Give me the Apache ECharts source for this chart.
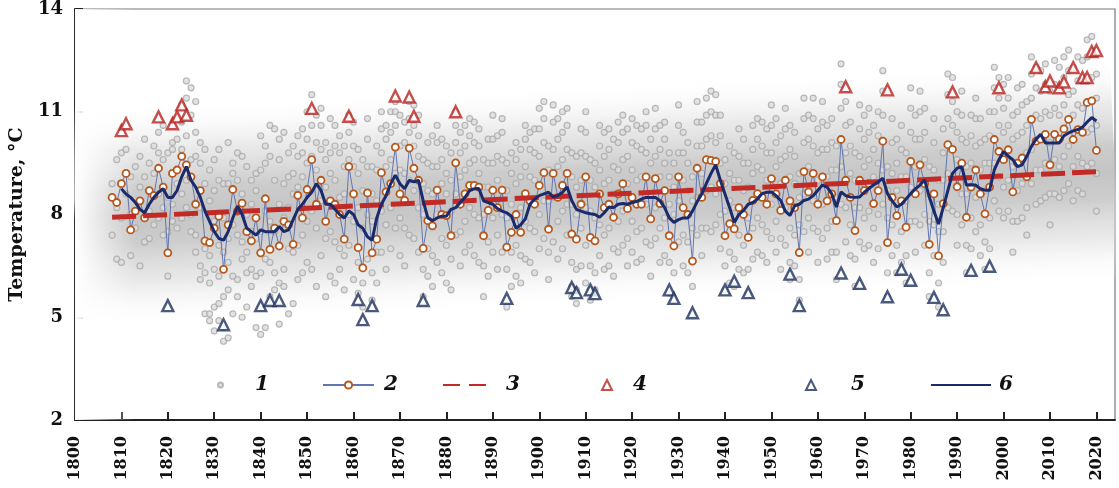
<!DOCTYPE html>
<html>
<head>
<meta charset="utf-8">
<script src="https://cdn.jsdelivr.net/npm/echarts@6/dist/echarts.min.js"></script>
<style>
  html, body { margin: 0; padding: 0; background: #fff; }
  #chart { width: 1119px; height: 488px; }
</style>
</head>
<body>
<div id="chart"></div>
<script>
// ---- Data -------------------------------------------------------------
// Tick labels on the time axis
const yearTicks = [1800, 1810, 1820, 1830, 1840, 1850, 1860, 1870, 1880, 1890, 1900,
  1910, 1920, 1930, 1940, 1950, 1960, 1970, 1980, 1990, 2000, 2010, 2020];
const tempTicks = [2, 5, 8, 11, 14];

// 1 — individual station annual values: [year, value, value, ...]
const stationDots = [
  [1808, 8.9, 7.4], [1809, 8.2, 9.6, 6.7], [1810, 9.8, 7.9, 6.6], [1811, 8.6, 9.9],
  [1812, 8.0, 6.8, 9.1], [1813, 9.4, 7.6], [1814, 9.7, 8.8, 6.5], [1815, 9.1, 7.2, 10.2],
  [1816, 9.5, 8.1, 7.3], [1817, 10.0, 9.2, 7.7], [1818, 10.4, 9.8, 7.9, 8.6],
  [1819, 9.6, 10.6, 8.2, 7.4], [1820, 8.5, 7.5, 9.8, 6.2], [1821, 10.1, 9.9, 8.3, 7.8],
  [1822, 10.8, 10.2, 8.9, 7.6], [1823, 11.2, 10.7, 9.9, 8.6, 7.9], [1824, 11.9, 11.4, 10.3, 9.0, 8.2],
  [1825, 11.7, 10.9, 9.6, 8.0, 7.5], [1826, 11.3, 10.4, 9.7, 7.4, 6.9], [1827, 10.1, 9.5, 8.2, 6.5, 6.1],
  [1828, 9.9, 8.9, 7.0, 6.3, 5.1], [1829, 9.3, 8.4, 6.8, 6.0, 5.1, 4.9], [1830, 9.6, 8.7, 7.8, 6.4, 5.3, 4.6],
  [1831, 9.9, 9.0, 7.1, 6.2, 5.4, 4.9], [1832, 8.9, 7.9, 6.9, 5.6, 4.7, 4.3], [1833, 10.1, 8.9, 7.3, 6.6, 5.8, 4.4],
  [1834, 9.5, 9.2, 7.7, 6.2, 5.1], [1835, 9.8, 9.0, 7.4, 6.1, 5.6], [1836, 9.7, 8.6, 7.2, 6.7, 5.0],
  [1837, 9.4, 8.0, 6.9, 6.3, 5.3], [1838, 9.0, 8.3, 7.5, 6.4, 5.9], [1839, 9.2, 8.7, 7.3, 6.2, 4.7],
  [1840, 10.3, 9.3, 7.5, 6.3, 4.5], [1841, 10.0, 9.5, 8.1, 6.7, 4.7], [1842, 10.6, 9.7, 7.8, 6.6, 5.6],
  [1843, 10.5, 9.0, 7.5, 6.3, 5.8], [1844, 10.2, 9.6, 8.3, 6.0, 4.8], [1845, 10.4, 8.9, 7.9, 6.4, 5.9],
  [1846, 9.8, 9.1, 8.2, 7.0, 5.1], [1847, 10.0, 9.2, 8.6, 6.9, 5.4], [1848, 10.3, 9.7, 8.8, 7.1, 6.1],
  [1849, 10.5, 9.8, 9.1, 7.4, 6.3], [1850, 11.0, 10.2, 9.5, 7.8, 6.6], [1851, 11.5, 10.6, 9.7, 8.1, 6.4],
  [1852, 10.9, 10.1, 9.3, 7.6, 5.9], [1853, 11.1, 10.6, 9.9, 8.4, 6.8], [1854, 10.1, 9.6, 8.8, 7.3, 5.6],
  [1855, 10.8, 9.8, 9.2, 7.5, 6.2], [1856, 10.6, 10.0, 9.0, 7.2, 6.0], [1857, 10.3, 9.8, 8.5, 7.0, 6.4],
  [1858, 10.0, 9.4, 8.6, 6.8, 5.8], [1859, 10.9, 10.4, 9.6, 8.0, 7.1], [1860, 10.7, 10.0, 9.4, 7.8, 6.1],
  [1861, 9.9, 9.2, 8.2, 6.6, 5.7], [1862, 9.6, 8.7, 7.6, 6.0, 5.3], [1863, 10.8, 10.2, 9.4, 8.0, 6.7],
  [1864, 9.4, 8.6, 7.8, 6.3, 5.5], [1865, 10.0, 9.3, 8.4, 6.9, 6.0], [1866, 11.0, 10.5, 9.8, 8.1, 6.9],
  [1867, 10.6, 10.2, 9.4, 7.7, 6.4], [1868, 11.0, 10.4, 9.6, 8.2, 7.0], [1869, 11.3, 11.0, 10.6, 9.2, 7.6],
  [1870, 10.9, 10.0, 9.3, 7.9, 6.8], [1871, 10.7, 10.1, 9.2, 7.6, 6.5], [1872, 11.3, 10.8, 10.4, 9.0, 7.4],
  [1873, 11.2, 10.6, 10.0, 8.7, 7.3], [1874, 10.9, 10.3, 9.7, 8.2, 6.9], [1875, 9.6, 8.9, 8.0, 6.4, 5.6],
  [1876, 10.1, 9.5, 8.7, 7.0, 6.2], [1877, 10.3, 9.4, 8.6, 6.8, 5.9], [1878, 10.6, 10.1, 9.4, 8.0, 6.6],
  [1879, 10.2, 9.6, 8.9, 7.3, 6.3], [1880, 10.0, 9.2, 8.6, 7.1, 6.0], [1881, 9.8, 9.0, 8.1, 6.7, 5.8],
  [1882, 11.0, 10.6, 10.1, 8.6, 7.4], [1883, 10.4, 9.8, 9.1, 7.5, 6.5], [1884, 10.6, 10.0, 9.3, 7.8, 6.9],
  [1885, 10.8, 10.3, 9.5, 8.2, 7.1], [1886, 10.7, 10.1, 9.6, 8.0, 6.8], [1887, 10.5, 10.0, 9.2, 7.9, 6.6],
  [1888, 9.6, 8.8, 8.0, 6.5, 5.6], [1889, 10.2, 9.5, 8.8, 7.2, 6.2], [1890, 10.9, 10.2, 9.5, 7.9, 6.9],
  [1891, 10.3, 9.7, 9.0, 7.4, 6.4], [1892, 10.8, 10.4, 9.6, 8.0, 6.9], [1893, 9.5, 8.7, 7.9, 6.4, 5.3],
  [1894, 9.8, 9.2, 8.3, 6.9, 5.9], [1895, 10.1, 9.6, 8.9, 7.1, 6.2], [1896, 9.9, 9.1, 8.2, 6.8, 6.0],
  [1897, 10.6, 10.2, 9.4, 7.8, 6.7], [1898, 10.4, 9.9, 9.1, 7.6, 6.6], [1899, 10.5, 9.8, 9.0, 7.5, 6.3],
  [1900, 11.1, 10.5, 9.7, 8.0, 7.0], [1901, 11.3, 10.8, 10.1, 8.4, 7.3], [1902, 10.0, 9.3, 8.4, 6.9, 6.1],
  [1903, 11.2, 10.7, 9.9, 8.5, 7.2], [1904, 10.8, 10.2, 9.4, 7.8, 6.7], [1905, 11.0, 10.4, 9.6, 8.1, 7.0],
  [1906, 11.1, 10.6, 9.9, 8.3, 7.4], [1907, 9.8, 9.1, 8.3, 6.6, 5.9, 5.6], [1908, 9.7, 8.8, 8.0, 6.4, 5.8, 5.4],
  [1909, 10.5, 9.8, 9.0, 7.6, 6.5], [1910, 11.0, 10.4, 9.7, 8.2, 7.1, 6.0], [1911, 9.6, 9.0, 8.1, 6.5, 5.8, 5.5],
  [1912, 9.5, 8.8, 7.9, 6.3, 5.8], [1913, 10.6, 10.0, 9.3, 7.7, 6.8], [1914, 10.4, 9.7, 8.9, 7.4, 6.4],
  [1915, 10.5, 9.9, 9.0, 7.6, 6.5], [1916, 10.2, 9.4, 8.6, 7.0, 6.2], [1917, 10.7, 10.1, 9.3, 7.8, 6.9],
  [1918, 10.9, 10.4, 9.6, 8.1, 7.1], [1919, 10.5, 9.7, 8.9, 7.3, 6.5], [1920, 10.8, 10.1, 9.3, 7.8, 6.9],
  [1921, 10.6, 10.0, 9.0, 7.5, 6.6], [1922, 10.5, 9.9, 9.1, 7.6, 6.7], [1923, 11.0, 10.6, 9.8, 8.3, 7.2],
  [1924, 10.2, 9.5, 8.6, 7.1, 6.2], [1925, 11.1, 10.5, 9.7, 8.2, 7.3], [1926, 10.6, 9.9, 9.1, 7.6, 6.6],
  [1927, 10.7, 10.2, 9.5, 7.9, 6.8], [1928, 9.8, 9.1, 8.3, 6.6, 5.7], [1929, 9.5, 8.8, 8.0, 6.3, 5.5],
  [1930, 11.2, 10.6, 9.8, 8.4, 7.2], [1931, 10.4, 9.8, 9.0, 7.4, 6.5], [1932, 10.1, 9.5, 8.7, 7.2, 6.3],
  [1933, 9.1, 8.4, 7.6, 5.9, 5.1], [1934, 11.3, 10.7, 10.0, 8.5, 7.4], [1935, 10.7, 10.0, 9.2, 7.6, 6.8],
  [1936, 11.4, 10.9, 10.2, 8.7, 7.6], [1937, 11.6, 11.0, 10.3, 8.8, 7.5], [1938, 11.5, 10.9, 10.1, 8.6, 7.7],
  [1939, 10.9, 10.3, 9.5, 8.0, 7.0], [1940, 9.6, 8.9, 8.1, 6.5, 5.8], [1941, 10.0, 9.2, 8.4, 6.9, 6.0],
  [1942, 9.8, 9.0, 8.2, 6.7, 5.9], [1943, 10.5, 9.7, 9.0, 7.4, 6.4], [1944, 10.2, 9.5, 8.7, 7.1, 6.3],
  [1945, 9.5, 8.8, 7.9, 6.4, 5.7], [1946, 10.6, 9.9, 9.2, 7.6, 6.7], [1947, 10.8, 10.2, 9.4, 7.9, 6.9],
  [1948, 10.7, 10.0, 9.3, 7.7, 6.8], [1949, 10.5, 9.8, 9.0, 7.5, 6.6], [1950, 11.2, 10.6, 9.8, 8.3, 7.3],
  [1951, 10.8, 10.1, 9.4, 7.8, 6.9], [1952, 10.3, 9.6, 8.9, 7.3, 6.4], [1953, 11.1, 10.5, 9.7, 8.2, 7.1],
  [1954, 10.6, 9.9, 9.1, 7.6, 6.6, 6.1], [1955, 10.4, 9.7, 8.9, 7.4, 6.5], [1956, 9.2, 8.5, 7.7, 6.1, 5.5],
  [1957, 11.4, 10.8, 10.1, 8.6, 7.5], [1958, 10.9, 10.2, 9.4, 7.9, 6.9], [1959, 11.4, 10.8, 10.0, 8.4, 7.6],
  [1960, 10.5, 9.8, 9.0, 7.5, 6.6], [1961, 11.3, 10.7, 9.9, 8.3, 7.3], [1962, 10.6, 9.9, 9.1, 7.6, 6.7],
  [1963, 10.8, 10.1, 9.3, 7.8, 6.9], [1964, 10.0, 9.3, 8.5, 6.9, 6.1], [1965, 12.4, 11.8, 11.1, 9.4, 8.3],
  [1966, 11.3, 10.6, 9.8, 8.2, 7.2], [1967, 10.7, 10.0, 9.2, 7.7, 6.8], [1968, 9.8, 9.0, 8.2, 6.7, 5.9],
  [1969, 11.2, 10.5, 9.7, 8.2, 7.2], [1970, 10.9, 10.2, 9.4, 7.9, 7.0], [1971, 11.1, 10.4, 9.6, 8.1, 7.1],
  [1972, 10.6, 9.9, 9.1, 7.6, 6.6], [1973, 11.0, 10.3, 9.5, 8.0, 7.0], [1974, 12.2, 11.6, 10.9, 9.3, 8.3],
  [1975, 9.4, 8.7, 7.9, 6.3, 5.6], [1976, 10.8, 10.1, 9.2, 7.7, 6.8], [1977, 10.2, 9.5, 8.7, 7.1, 6.3],
  [1978, 10.6, 9.9, 9.1, 7.5, 6.6], [1979, 9.8, 9.1, 8.4, 6.8, 6.0], [1980, 11.7, 11.1, 10.4, 8.8, 7.8],
  [1981, 10.9, 10.2, 9.4, 7.8, 6.9], [1982, 11.6, 11.0, 10.2, 8.7, 7.7], [1983, 11.1, 10.4, 9.6, 8.0, 7.1],
  [1984, 9.4, 8.6, 7.8, 6.3, 5.6], [1985, 10.8, 10.1, 9.3, 7.7, 6.8], [1986, 9.0, 8.3, 7.5, 6.0, 5.3],
  [1987, 10.5, 9.8, 9.0, 7.5, 6.6], [1988, 12.1, 11.5, 10.8, 9.2, 8.2], [1989, 12.0, 11.3, 10.6, 9.1, 8.1],
  [1990, 11.0, 10.4, 9.6, 8.0, 7.1], [1991, 11.6, 10.9, 10.2, 8.6, 7.7], [1992, 10.1, 9.4, 8.6, 7.1, 6.3],
  [1993, 10.9, 10.3, 9.5, 7.9, 7.0], [1994, 11.4, 10.8, 10.0, 8.5, 7.5], [1995, 10.8, 10.1, 9.3, 7.7, 6.8],
  [1996, 10.2, 9.5, 8.7, 7.2, 6.4], [1997, 11.0, 10.3, 9.5, 7.9, 7.0], [1998, 12.3, 11.7, 11.0, 9.5, 8.4],
  [1999, 12.0, 11.4, 10.6, 9.1, 8.1], [2000, 11.8, 11.1, 10.4, 8.8, 7.9], [2001, 12.0, 11.4, 10.6, 9.0, 8.1],
  [2002, 10.9, 10.2, 9.4, 7.8, 6.9], [2003, 11.7, 11.0, 10.3, 8.7, 7.8], [2004, 11.8, 11.2, 10.4, 8.9, 7.9],
  [2005, 11.3, 10.6, 9.8, 8.2, 7.4], [2006, 12.6, 12.1, 11.4, 9.9, 8.9], [2007, 12.3, 11.7, 10.9, 9.3, 8.3],
  [2008, 12.2, 11.6, 10.8, 9.3, 8.4], [2009, 12.4, 11.8, 11.0, 9.5, 8.5], [2010, 11.6, 10.9, 10.1, 8.6, 7.7],
  [2011, 12.5, 11.8, 11.1, 9.6, 8.6], [2012, 12.3, 11.7, 10.9, 9.4, 8.5], [2013, 12.6, 12.0, 11.2, 9.7, 8.7],
  [2014, 12.8, 12.2, 11.5, 10.0, 8.9], [2015, 12.3, 11.6, 10.9, 9.4, 8.4], [2016, 12.6, 11.9, 11.2, 9.7, 8.7],
  [2017, 12.5, 11.9, 11.1, 9.5, 8.6], [2018, 13.1, 12.6, 11.9, 10.4, 9.4], [2019, 13.2, 12.7, 12.0, 10.5, 9.5],
  [2020, 12.1, 11.4, 10.6, 9.2, 8.1]
];

// 2 — regional annual mean temperature, one value per year from 1808
const annualFirstYear = 1808;
const annualMean = [
  8.5, 8.35, 8.9, 9.2, 7.55, 8.1, 8.4, 7.9, 8.7, 8.55,      // 1808-1817
  9.35, 8.8, 6.88, 9.2, 9.3, 9.7, 9.45, 9.1, 8.3, 8.7,      // 1818-1827
  7.23, 7.18, 7.6, 7.95, 6.4, 7.7, 8.73, 8.1, 8.33, 7.5,    // 1828-1837
  7.23, 7.9, 6.88, 8.46, 6.98, 7.6, 7.08, 7.8, 7.7, 7.13,   // 1838-1847
  8.56, 7.9, 8.73, 9.6, 8.3, 9.0, 7.8, 8.4, 8.3, 8.0,       // 1848-1857
  7.28, 9.4, 8.6, 7.03, 6.44, 8.63, 6.88, 7.28, 9.22, 8.66, // 1858-1867
  8.9, 9.97, 8.6, 8.41, 9.94, 9.35, 9.0, 7.01, 7.82, 7.67,  // 1868-1877
  8.71, 8.0, 7.97, 7.38, 9.51, 8.3, 8.6, 8.85, 8.85, 8.8,   // 1878-1887
  7.38, 8.12, 8.71, 8.2, 8.71, 7.05, 7.48, 8.0, 7.48, 8.61, // 1888-1897
  8.4, 8.3, 8.85, 9.22, 7.57, 9.2, 8.5, 8.85, 9.2, 7.43,    // 1898-1907
  7.28, 8.3, 9.1, 7.33, 7.23, 8.6, 8.2, 8.3, 7.92, 8.6,     // 1908-1917
  8.9, 8.17, 8.5, 8.3, 8.3, 9.1, 7.87, 9.05, 8.32, 8.7,     // 1918-1927
  7.38, 7.08, 9.1, 8.2, 8.0, 6.64, 9.35, 8.5, 9.6, 9.58,    // 1928-1937
  9.55, 8.9, 7.38, 7.73, 7.58, 8.2, 8.0, 7.33, 8.41, 8.61,  // 1938-1947
  8.5, 8.3, 9.05, 8.6, 8.12, 9.0, 8.4, 8.2, 6.89, 9.25,     // 1948-1957
  8.66, 9.2, 8.3, 9.1, 8.4, 8.6, 7.82, 10.19, 9.0, 8.5,     // 1958-1967
  7.53, 9.0, 8.7, 8.9, 8.32, 8.7, 10.14, 7.18, 8.5, 7.97,   // 1968-1977
  8.4, 7.63, 9.55, 8.6, 9.45, 8.9, 7.13, 8.6, 6.79, 8.32,   // 1978-1987
  10.04, 9.9, 8.81, 9.5, 7.92, 8.8, 9.3, 8.6, 8.02, 8.8,    // 1988-1997
  10.19, 9.84, 9.6, 9.89, 8.66, 9.5, 9.65, 9.1, 10.78, 10.14, // 1998-2007
  10.2, 10.34, 9.45, 10.34, 10.2, 10.5, 10.78, 10.19, 10.48, 10.4, // 2008-2017
  11.27, 11.32, 9.87                                         // 2018-2020
];

// 3 — linear trend (end points)
const trendLine = [[1808, 7.92], [2020, 9.25]];

// 4 — warm extremes, 5 — cold extremes: [year, value]
const warmExtremes = [
  [1810, 10.45], [1811, 10.65], [1818, 10.85], [1821, 10.65], [1822, 10.85], [1823, 11.2], [1824, 10.9],
  [1851, 11.1], [1859, 10.87], [1869, 11.46], [1872, 11.43], [1873, 10.87], [1882, 11.0],
  [1966, 11.73], [1975, 11.64], [1989, 11.58], [1999, 11.7], [2007, 12.29], [2009, 11.73],
  [2010, 11.9], [2012, 11.7], [2013, 11.87], [2015, 12.29], [2017, 12.0], [2018, 12.0],
  [2019, 12.76], [2020, 12.79]
];
const coldExtremes = [
  [1820, 5.34], [1832, 4.78], [1840, 5.34], [1842, 5.49], [1844, 5.49], [1861, 5.52], [1862, 4.93],
  [1864, 5.34], [1875, 5.49], [1893, 5.55], [1907, 5.87], [1908, 5.72], [1911, 5.8], [1912, 5.69],
  [1928, 5.8], [1929, 5.55], [1933, 5.13], [1940, 5.8], [1942, 6.05], [1945, 5.72], [1954, 6.26],
  [1956, 5.34], [1965, 6.29], [1969, 5.99], [1975, 5.6], [1978, 6.4], [1980, 6.08], [1985, 5.58],
  [1987, 5.22], [1993, 6.37], [1997, 6.49]
];

// 6 — smoothed mean, one value per year from 1810
const smoothFirstYear = 1810;
const smoothedMean = [
  8.75, 8.6, 8.5, 8.35, 8.15, 8.05, 8.3, 8.5, 8.65, 8.75,   // 1810-1819
  8.5, 8.5, 8.7, 9.1, 9.4, 9.0, 8.8, 8.5, 8.1, 7.8,         // 1820-1829
  7.5, 7.3, 7.25, 7.5, 7.9, 8.25, 8.0, 7.6, 7.5, 7.4,       // 1830-1839
  7.55, 7.5, 7.5, 7.5, 7.65, 7.5, 7.55, 7.85, 8.15, 8.3,    // 1840-1849
  8.5, 8.65, 8.9, 8.7, 8.3, 8.3, 8.15, 8.0, 7.9, 8.1,       // 1850-1859
  8.0, 7.7, 7.6, 7.35, 7.25, 7.9, 8.3, 8.55, 8.9, 9.15,     // 1860-1869
  8.9, 8.75, 9.0, 8.95, 9.0, 8.4, 7.9, 7.82, 7.9, 7.95,     // 1870-1879
  7.95, 8.15, 8.2, 8.35, 8.5, 8.7, 8.75, 8.76, 8.4, 8.35,   // 1880-1889
  8.3, 8.17, 8.1, 8.05, 7.95, 7.6, 7.7, 7.87, 8.3, 8.45,    // 1890-1899
  8.55, 8.6, 8.65, 8.51, 8.55, 8.65, 8.8, 8.4, 8.15, 8.1,   // 1900-1909
  8.05, 8.02, 8.0, 7.92, 8.05, 8.22, 8.2, 8.3, 8.32, 8.3,   // 1910-1919
  8.35, 8.38, 8.45, 8.5, 8.5, 8.5, 8.4, 8.2, 7.9, 7.77,     // 1920-1929
  7.85, 7.9, 7.9, 8.1, 8.37, 8.6, 8.91, 9.2, 9.45, 9.0,     // 1930-1939
  8.6, 8.2, 7.77, 8.0, 8.12, 8.3, 8.35, 8.45, 8.61, 8.65,   // 1940-1949
  8.66, 8.55, 8.41, 8.1, 7.97, 8.25, 8.3, 8.41, 8.45, 8.55, // 1950-1959
  8.71, 8.86, 8.8, 8.6, 8.22, 8.66, 8.55, 8.51, 8.5, 8.51,  // 1960-1969
  8.65, 8.76, 8.86, 8.95, 9.06, 8.61, 8.4, 8.22, 8.3, 8.45, // 1970-1979
  8.61, 8.75, 8.86, 9.01, 8.51, 8.1, 7.72, 8.2, 8.7, 9.2,   // 1980-1989
  9.35, 9.4, 8.86, 8.86, 8.86, 8.75, 8.71, 8.71, 9.3, 9.6,  // 1990-1999
  9.84, 9.7, 9.6, 9.4, 9.45, 9.7, 9.99, 10.2, 10.34, 10.09, // 2000-2009
  10.09, 10.09, 10.09, 10.3, 10.38, 10.44, 10.48, 10.55, 10.7, 10.83, // 2010-2019
  10.73                                                      // 2020
];

// ---- Build series data --------------------------------------------------
const dotData = [];
stationDots.forEach(row => {
  for (let i = 1; i < row.length; i++) dotData.push([row[0], row[i]]);
});
const annualData = annualMean.map((v, i) => [annualFirstYear + i, v]);
const smoothData = smoothedMean.map((v, i) => [smoothFirstYear + i, v]);

const X_MIN = 1800, X_MAX = 2024;
const serifBold = '"DejaVu Serif", "Liberation Serif", serif';

// trend value at any year (for the shaded band along the trend)
function trendAt(yr) {
  const [a, b] = trendLine;
  return a[1] + (b[1] - a[1]) * (yr - a[0]) / (b[0] - a[0]);
}

const chart = echarts.init(document.getElementById('chart'), null, { renderer: 'canvas' });

function legendBox(name, left, width, height, textPad, extra) {
  return Object.assign({
    data: [name],
    left: left,
    top: 375,
    padding: 0,
    itemWidth: width,
    itemHeight: height,
    selectedMode: false,
    textStyle: {
      fontFamily: serifBold,
      fontStyle: 'italic',
      fontWeight: 'bold',
      fontSize: 20,
      color: '#111',
      padding: [0, 0, 0, textPad]
    }
  }, extra || {});
}

const option = {
  animation: false,
  backgroundColor: '#fff',
  grid: {
    left: 72, right: 4, top: 9, bottom: 68,
    show: true, borderColor: '#777', borderWidth: 1.2, backgroundColor: 'transparent'
  },
  legend: [
    legendBox('1', 217, 5, 5, 27),
    legendBox('2', 322, 51, 9, 5),
    legendBox('3', 442, 48, 10, 10, { lineStyle: { type: [17, 9], cap: 'butt' } }),
    legendBox('4', 601, 10, 10, 16),
    legendBox('5', 805, 10, 10, 30),
    legendBox('6', 930, 60, 10, 3)
  ],
  xAxis: {
    type: 'value',
    min: X_MIN, max: X_MAX,
    interval: 10,
    splitLine: { show: false },
    axisLine: { show: true, lineStyle: { color: '#222', width: 2 } },
    axisTick: { show: true, inside: true, length: 8, customValues: yearTicks.slice(1), lineStyle: { color: '#222', width: 2 } },
    axisLabel: {
      customValues: yearTicks,
      rotate: 90, margin: 16,
      fontFamily: serifBold, fontWeight: 'bold', fontSize: 16, color: '#111',
      formatter: v => String(v)
    }
  },
  yAxis: {
    type: 'value',
    min: 2, max: 14, interval: 3,
    name: 'Temperature, °C',
    nameLocation: 'middle',
    nameGap: 40,
    nameTextStyle: { fontFamily: serifBold, fontWeight: 'bold', fontSize: 19, color: '#111' },
    splitLine: { show: false },
    axisLine: { show: true, lineStyle: { color: '#222', width: 2 } },
    axisTick: { show: true, inside: true, length: 8, lineStyle: { color: '#222', width: 2 } },
    axisLabel: {
      customValues: tempTicks,
      margin: 12,
      fontFamily: serifBold, fontWeight: 'bold', fontSize: 18, color: '#111'
    }
  },
  series: [
    {
      // soft grey band following the trend
      type: 'custom',
      name: 'band',
      silent: true,
      clip: true,
      z: 1,
      data: [[1900, 8]],
      renderItem: function (params, api) {
        const p0 = api.coord([X_MIN, trendAt(X_MIN)]);
        const p1 = api.coord([X_MAX, trendAt(X_MAX)]);
        const len = Math.hypot(p1[0] - p0[0], p1[1] - p0[1]);
        const half = api.size([0, 3.3])[1];
        const ang = Math.atan2(p0[1] - p1[1], p1[0] - p0[0]);
        const tl = api.coord([X_MIN, 14]);
        const br = api.coord([1813, 2]);
        return {
          type: 'group',
          children: [
            {
              type: 'rect',
              x: p0[0], y: p0[1], rotation: ang,
              shape: { x: 0, y: -half, width: len, height: 2 * half },
              style: {
                fill: new echarts.graphic.LinearGradient(0, 0, 0, 1, [
                  { offset: 0, color: 'rgba(255,255,255,0)' },
                  { offset: 0.2, color: 'rgba(215,215,215,0.5)' },
                  { offset: 0.38, color: 'rgba(196,196,196,0.85)' },
                  { offset: 0.5, color: 'rgba(190,190,190,0.9)' },
                  { offset: 0.62, color: 'rgba(196,196,196,0.85)' },
                  { offset: 0.8, color: 'rgba(215,215,215,0.5)' },
                  { offset: 1, color: 'rgba(255,255,255,0)' }
                ])
              }
            },
            {
              type: 'rect',
              shape: { x: tl[0], y: tl[1], width: br[0] - tl[0], height: br[1] - tl[1] },
              style: {
                fill: new echarts.graphic.LinearGradient(0, 0, 1, 0, [
                  { offset: 0, color: 'rgba(255,255,255,1)' },
                  { offset: 1, color: 'rgba(255,255,255,0)' }
                ])
              }
            }
          ]
        };
      }
    },
    {
      name: '1',
      type: 'scatter',
      z: 2,
      symbol: 'circle',
      symbolSize: 6,
      data: dotData,
      itemStyle: { color: '#dcdcdc', borderColor: '#a9a9a9', borderWidth: 1.2 }
    },
    {
      name: '2',
      type: 'line',
      z: 3,
      data: annualData,
      symbol: 'circle',
      symbolSize: 7,
      showAllSymbol: true,
      lineStyle: { color: '#6276b0', width: 1 },
      itemStyle: { color: '#ffffff', borderColor: '#b5581d', borderWidth: 1.8 }
    },
    {
      name: '3',
      type: 'line',
      z: 4,
      data: trendLine,
      symbol: 'none',
      lineStyle: { color: '#c22a26', width: 5, type: [24, 7], cap: 'butt' },
      itemStyle: { color: '#c22a26', opacity: 0 }
    },
    {
      name: '6',
      type: 'line',
      z: 5,
      data: smoothData,
      symbol: 'none',
      lineStyle: { color: '#1b2a6b', width: 3 },
      itemStyle: { color: '#1b2a6b', opacity: 0 }
    },
    {
      name: '4',
      type: 'scatter',
      z: 6,
      symbol: 'triangle',
      symbolSize: 11,
      data: warmExtremes,
      itemStyle: { color: '#ffffff', borderColor: '#b8221e', borderWidth: 2.4 }
    },
    {
      name: '5',
      type: 'scatter',
      z: 6,
      symbol: 'triangle',
      symbolSize: 11,
      data: coldExtremes,
      itemStyle: { color: '#ffffff', borderColor: '#1d2f5e', borderWidth: 2.4 }
    }
  ]
};

chart.setOption(option);
</script>
</body>
</html>
